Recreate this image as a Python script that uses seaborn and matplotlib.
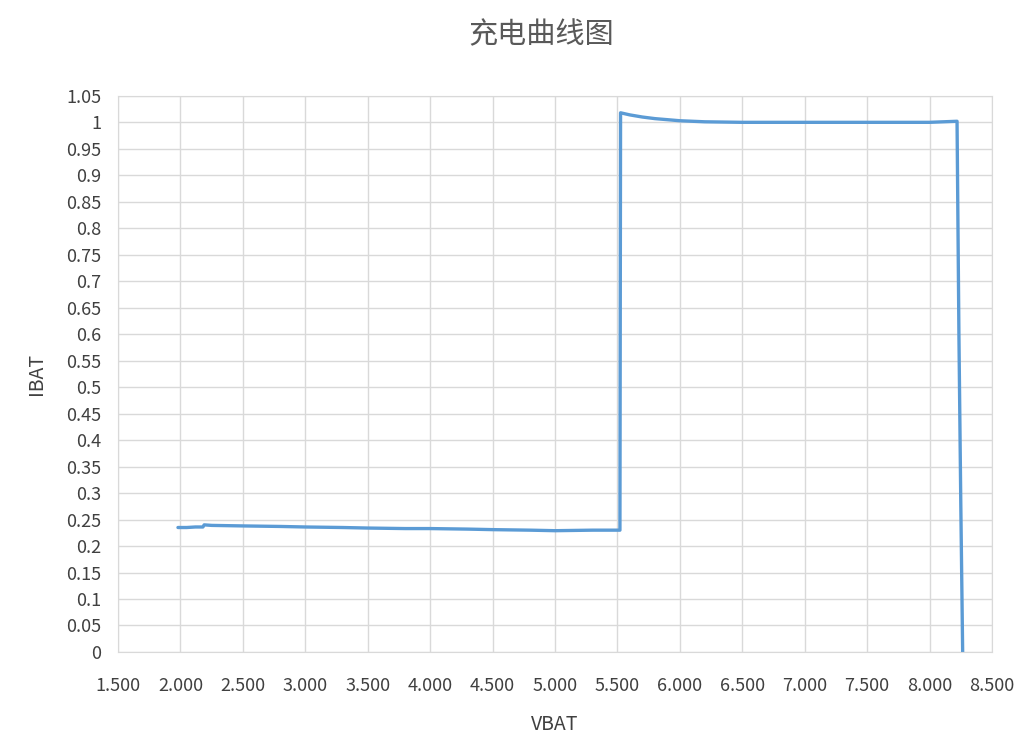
import matplotlib
matplotlib.use('Agg')
import matplotlib.pyplot as plt
import seaborn as sns
import pandas as pd

# readings taken off the charge curve
vbat = [1.98, 2.05, 2.12, 2.18, 2.19, 2.25, 2.5, 2.8, 3.0, 3.3, 3.5, 3.8, 4.0, 4.3,
        4.5, 4.8, 5.0, 5.3, 5.52, 5.525, 5.6, 5.7, 5.8, 5.9, 6.0, 6.1, 6.2, 6.5,
        7.0, 7.5, 8.0, 8.22, 8.235, 8.25, 8.265]
ibat = [0.235, 0.235, 0.236, 0.236, 0.240, 0.239, 0.238, 0.237, 0.236, 0.235, 0.234,
        0.233, 0.233, 0.232, 0.231, 0.230, 0.229, 0.230, 0.230, 1.018, 1.014, 1.010,
        1.007, 1.005, 1.003, 1.002, 1.001, 1.000, 1.000, 1.000, 1.000, 1.002, 0.60,
        0.28, 0.0]

x_ticks = [1.5, 2.0, 2.5, 3.0, 3.5, 4.0, 4.5, 5.0, 5.5, 6.0, 6.5, 7.0, 7.5, 8.0, 8.5]
y_ticks = [0, 0.05, 0.1, 0.15, 0.2, 0.25, 0.3, 0.35, 0.4, 0.45, 0.5, 0.55, 0.6, 0.65,
           0.7, 0.75, 0.8, 0.85, 0.9, 0.95, 1, 1.05]

df = pd.DataFrame({'VBAT': vbat, 'IBAT': ibat})

sns.set_style('white')
plt.rcParams['font.family'] = ['Noto Sans CJK SC', 'DejaVu Sans']

fig = plt.figure(figsize=(10.21, 7.43), dpi=100)
ax = fig.add_axes([0.1156, 0.1225, 0.856, 0.7485])

sns.lineplot(data=df, x='VBAT', y='IBAT', sort=False, estimator=None,
             color='#5B9BD5', linewidth=2.4, ax=ax)

ax.set_xlim(1.5, 8.5)
ax.set_ylim(0, 1.05)
ax.set_xticks(x_ticks)
ax.set_xticklabels([f'{v:.3f}' for v in x_ticks])
ax.set_yticks(y_ticks)
ax.set_yticklabels([f'{v:g}' for v in y_ticks])
ax.grid(True, color='#D9D9D9', linewidth=1.0)
ax.set_axisbelow(True)
for s in ax.spines.values():
    s.set_color('#D9D9D9')
ax.tick_params(axis='both', length=0, labelsize=13, colors='#404040')
ax.tick_params(axis='x', pad=18)
ax.tick_params(axis='y', pad=12)

ax.set_xlabel('VBAT', fontsize=14, color='#404040', labelpad=14)
ax.set_ylabel('IBAT', fontsize=14, color='#404040', labelpad=14)
fig.text(0.53, 0.953, '充电曲线图', fontsize=21, color='#595959',
         fontweight='light', ha='center', va='center')

fig.savefig('out.png', dpi=100)
